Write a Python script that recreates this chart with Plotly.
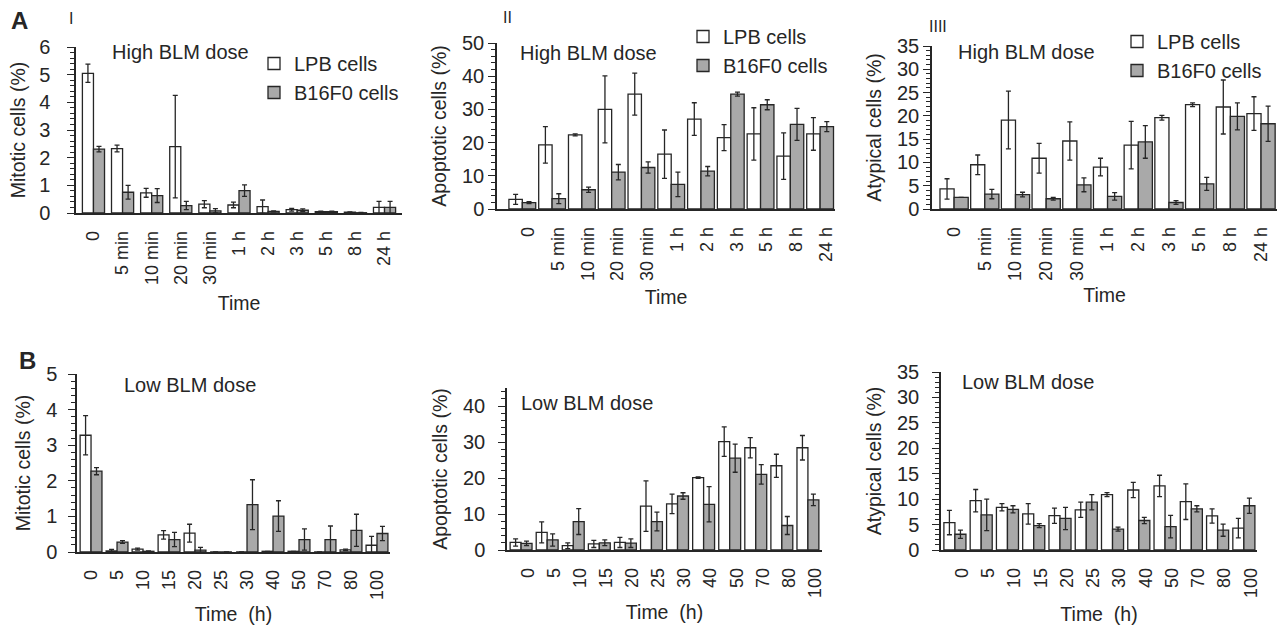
import plotly.graph_objects as go
from plotly.subplots import make_subplots

W, H = 1278, 630

high_times = ["0", "5 min", "10 min", "20 min", "30 min", "1 h", "2 h", "3 h", "5 h", "8 h", "24 h"]
low_times = ["0", "5", "10", "15", "20", "25", "30", "40", "50", "70", "80", "100"]

# A I - mitotic cells, high BLM dose
mit_hi_lpb = [5.05, 2.33, 0.73, 2.4, 0.32, 0.29, 0.23, 0.12, 0.05, 0.03, 0.2]
mit_hi_lpb_err = [0.33, 0.12, 0.16, 1.85, 0.13, 0.1, 0.24, 0.05, 0.02, 0.01, 0.22]
mit_hi_b16 = [2.31, 0.75, 0.63, 0.27, 0.08, 0.81, 0.06, 0.1, 0.05, 0.01, 0.2]
mit_hi_b16_err = [0.1, 0.25, 0.25, 0.15, 0.08, 0.21, 0.02, 0.05, 0.02, 0.01, 0.22]

# A II - apoptotic cells, high BLM dose
apo_hi_lpb = [2.9, 19.3, 22.3, 30.0, 34.6, 16.5, 27.1, 21.5, 22.6, 15.9, 22.6]
apo_hi_lpb_err = [1.5, 5.5, 0.3, 10.1, 6.3, 7.3, 4.9, 3.9, 7.9, 7.0, 4.9]
apo_hi_b16 = [1.9, 3.1, 5.8, 11.1, 12.5, 7.4, 11.4, 34.6, 31.4, 25.5, 24.8]
apo_hi_b16_err = [0.3, 1.5, 0.8, 2.3, 1.7, 3.7, 1.4, 0.6, 1.5, 4.8, 1.5]

# A III - atypical cells, high BLM dose
aty_hi_lpb = [4.3, 9.5, 19.1, 10.9, 14.6, 9.0, 13.7, 19.6, 22.4, 21.9, 20.5]
aty_hi_lpb_err = [2.2, 2.1, 6.2, 3.2, 4.1, 1.9, 5.1, 0.5, 0.4, 5.8, 3.6]
aty_hi_b16 = [2.5, 3.2, 3.1, 2.2, 5.2, 2.7, 14.4, 1.4, 5.4, 19.9, 18.3]
aty_hi_b16_err = [0, 1.0, 0.5, 0.3, 1.5, 0.8, 3.5, 0.4, 1.4, 2.9, 3.8]

# B I - mitotic cells, low BLM dose
mit_lo_lpb = [3.28, 0.03, 0.08, 0.48, 0.53, 0, 0, 0.02, 0.02, 0, 0.06, 0.19]
mit_lo_lpb_err = [0.55, 0.04, 0.03, 0.12, 0.25, 0, 0, 0, 0, 0, 0.02, 0.25]
mit_lo_b16 = [2.27, 0.28, 0.02, 0.35, 0.05, 0, 1.33, 1.01, 0.35, 0.35, 0.61, 0.52]
mit_lo_b16_err = [0.1, 0.04, 0.01, 0.2, 0.08, 0, 0.7, 0.43, 0.3, 0.38, 0.45, 0.2]

# B II - apoptotic cells, low BLM dose
apo_lo_lpb = [2.1, 4.9, 1.2, 1.7, 2.1, 12.2, 12.8, 20.1, 30.1, 28.4, 23.4, 28.4]
apo_lo_lpb_err = [1.0, 2.9, 0.8, 1.0, 1.4, 7.0, 2.7, 0.2, 4.1, 2.8, 3.2, 3.4]
apo_lo_b16 = [1.85, 2.8, 7.9, 2.0, 1.9, 7.9, 15.0, 12.7, 25.5, 21.0, 6.8, 13.9]
apo_lo_b16_err = [0.6, 1.7, 3.6, 0.8, 1.2, 2.6, 0.9, 4.9, 3.9, 2.7, 2.5, 1.6]

# B III - atypical cells, low BLM dose
aty_lo_lpb = [5.4, 9.7, 8.4, 7.1, 6.75, 7.9, 10.9, 11.8, 12.6, 9.5, 6.7, 4.3]
aty_lo_lpb_err = [2.4, 2.2, 0.7, 2.0, 1.5, 1.5, 0.4, 1.5, 2.1, 3.5, 1.4, 1.9]
aty_lo_b16 = [3.1, 6.9, 8.0, 4.8, 6.2, 9.4, 4.1, 5.8, 4.6, 8.1, 3.9, 8.7]
aty_lo_b16_err = [0.8, 3.1, 0.7, 0.4, 2.2, 1.5, 0.4, 0.6, 2.2, 0.6, 1.2, 1.5]

INK = "#262626"
GREY = "#a9a9a9"
FONT = "Liberation Sans, Arial, sans-serif"


def px(x):
    return x / W


def py(y):
    return 1 - y / H


fig = make_subplots(rows=2, cols=3)

# row, col, cats, lpb, err, b16, err, legend, ymax, dtick, minor, y title, x title,
# plot box in px (left, right, top, bottom), x range, bar width, label shift,
# y label standoff, y title standoff, x title standoff
panels = [
    (1, 1, high_times, mit_hi_lpb, mit_hi_lpb_err, mit_hi_b16, mit_hi_b16_err, "legend", 6, 1, 0.2,
     "Mitotic cells (%)", "Time", (76, 402, 47, 213), (-0.6, 10.6), 0.38, 0, 13, 8, 12),
    (1, 2, high_times, apo_hi_lpb, apo_hi_lpb_err, apo_hi_b16, apo_hi_b16_err, "legend2", 50, 10, 2,
     "Apoptotic cells (%)", "Time", (497, 835, 43, 209), (-0.85, 10.5), 0.45, 6, 0, 10, 10),
    (1, 3, high_times, aty_hi_lpb, aty_hi_lpb_err, aty_hi_b16, aty_hi_b16_err, "legend3", 35, 5, 1,
     "Atypical cells (%)", "Time", (932, 1277, 46, 209), (-0.72, 10.52), 0.46, 0, 0, 10, 8),
    (2, 1, low_times, mit_lo_lpb, mit_lo_lpb_err, mit_lo_b16, mit_lo_b16_err, None, 5, 1, 0.2,
     "Mitotic cells (%)", "Time  (h)", (77, 390, 374, 552), (-0.54, 11.5), 0.42, 0, 7, 10, 8),
    (2, 2, low_times, apo_lo_lpb, apo_lo_lpb_err, apo_lo_b16, apo_lo_b16_err, None, 45, 10, 2,
     "Apoptotic cells (%)", "Time  (h)", (507, 822, 388, 550), (-0.54, 11.54), 0.42, 7, 9, 10, 8),
    (2, 3, low_times, aty_lo_lpb, aty_lo_lpb_err, aty_lo_b16, aty_lo_b16_err, None, 35, 5, 1,
     "Atypical cells (%)", "Time  (h)", (941, 1257, 372, 550), (-0.53, 11.5), 0.42, 7, 9, 10, 10),
]

for (r, c, cats, lpb, lpb_err, b16, b16_err, leg, ymax, dt, mn, ytitle, xtitle,
     box, xr, bw, shift, ystand, ytstand, xtstand) in panels:
    show = leg is not None
    fig.add_trace(go.Bar(
        x=cats, y=lpb, name="LPB cells", showlegend=show, legend=leg or "legend",
        width=bw, offset=-bw,
        marker=dict(color="white", line=dict(color=INK, width=1.3)),
        error_y=dict(type="data", array=lpb_err, color=INK, thickness=1.3, width=2.5),
    ), row=r, col=c)
    fig.add_trace(go.Bar(
        x=cats, y=b16, name="B16F0 cells", showlegend=show, legend=leg or "legend",
        width=bw, offset=0,
        marker=dict(color=GREY, line=dict(color=INK, width=1.3)),
        error_y=dict(type="data", array=b16_err, color=INK, thickness=1.3, width=2.5),
    ), row=r, col=c)
    x0, x1, y0, y1 = box
    fig.update_xaxes(
        domain=[px(x0), px(x1)], type="category", range=list(xr), automargin=False,
        showline=True, linecolor=INK, linewidth=1.5, ticks="", showgrid=False, zeroline=False,
        tickangle=-90, tickfont=dict(size=18), ticklabelstandoff=9, ticklabelshift=shift,
        title=dict(text=xtitle, font=dict(size=19.5), standoff=xtstand),
        row=r, col=c)
    fig.update_yaxes(
        domain=[py(y1), py(y0)], range=[0, ymax], tick0=0, dtick=dt, automargin=False,
        showline=True, linecolor=INK, linewidth=1.5, showgrid=False, zeroline=False,
        ticks="outside", ticklen=7, tickwidth=1.3, tickcolor=INK, tickfont=dict(size=20),
        ticklabelstandoff=ystand,
        minor=dict(dtick=mn, tick0=0, ticks="outside", ticklen=4, tickwidth=1, tickcolor=INK),
        title=dict(text=ytitle, font=dict(size=19.5), standoff=ytstand),
        row=r, col=c)

legend_style = dict(xref="paper", yref="paper", xanchor="left", yanchor="top",
                    font=dict(size=20), bgcolor="rgba(0,0,0,0)", itemwidth=30,
                    tracegroupgap=0, traceorder="normal")

fig.update_layout(
    width=W, height=H, margin=dict(l=0, r=0, t=0, b=0, autoexpand=False),
    plot_bgcolor="white", paper_bgcolor="white",
    barmode="overlay",
    font=dict(family=FONT, size=17, color=INK),
    legend=dict(x=px(254), y=py(44), **legend_style),
    legend2=dict(x=px(683), y=py(17), **legend_style),
    legend3=dict(x=px(1117), y=py(22), **legend_style),
)

notes = [
    ("High BLM dose", 180, 52), ("High BLM dose", 588, 53), ("High BLM dose", 1026, 52),
    ("Low BLM dose", 190, 385), ("Low BLM dose", 587, 403), ("Low BLM dose", 1028, 382),
]
for text, x, y in notes:
    fig.add_annotation(text=text, x=px(x), y=py(y), xref="paper", yref="paper",
                       xanchor="center", yanchor="middle",
                       showarrow=False, font=dict(size=20))

marks = [("<b>A</b>", 19, 20, 24), ("<b>B</b>", 27, 360, 24),
         ("I", 71, 18, 16), ("II", 507, 17, 16), ("IIII", 938, 27, 16)]
for text, x, y, s in marks:
    fig.add_annotation(text=text, x=px(x), y=py(y), xref="paper", yref="paper",
                       xanchor="center", yanchor="middle",
                       showarrow=False, font=dict(size=s))

# drop the default page margin so the figure sits at the window's corner
fig.write_html("out.html", config={"displayModeBar": False},
               post_script="document.body.style.margin='0';")
